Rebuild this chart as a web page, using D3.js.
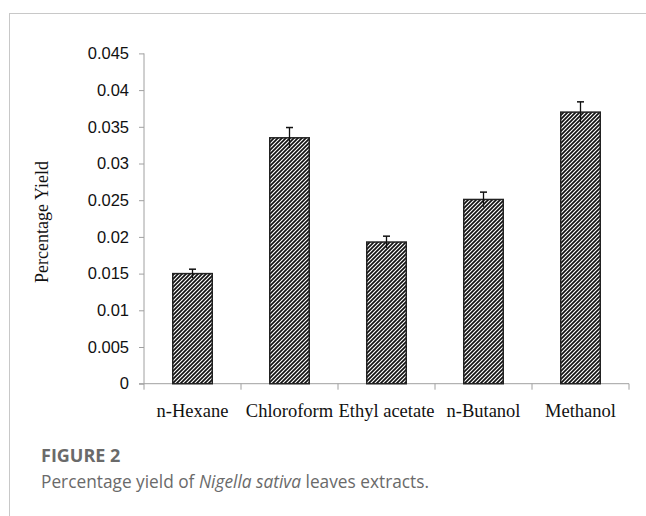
<!DOCTYPE html>
<html>
<head>
<meta charset="utf-8">
<script src="https://cdn.jsdelivr.net/npm/d3@7"></script>
<style>
  html, body { margin: 0; padding: 0; background: #fff; }
  svg { display: block; }
</style>
</head>
<body>
<svg id="chart" width="646" height="516"></svg>
<script>
// Extract yields (percentage) with standard error
const categories = ["n-Hexane", "Chloroform", "Ethyl acetate", "n-Butanol", "Methanol"];
const yields = [0.0150, 0.0335, 0.0193, 0.0251, 0.0370];
const errors = [0.0006, 0.0014, 0.0008, 0.0010, 0.0014];
const yTicks = [0, 0.005, 0.01, 0.015, 0.02, 0.025, 0.03, 0.035, 0.04, 0.045];
const yTickLabels = ["0", "0.005", "0.01", "0.015", "0.02", "0.025", "0.03", "0.035", "0.04", "0.045"];

const svg = d3.select("#chart");

// Hatch pattern for bars (upward diagonal stripes)
const defs = svg.append("defs");
const pat = defs.append("pattern")
  .attr("id", "hatch")
  .attr("patternUnits", "userSpaceOnUse")
  .attr("width", 4).attr("height", 4);
pat.append("rect").attr("width", 4).attr("height", 4).attr("fill", "#fff");
pat.append("path")
  .attr("d", "M-1,1 l2,-2 M0,4 l4,-4 M3,5 l2,-2")
  .attr("stroke", "#111").attr("stroke-width", 1.7);

// Panel frame (top and left rules)
svg.append("line").attr("x1", 9).attr("x2", 646).attr("y1", 13.5).attr("y2", 13.5)
  .attr("stroke", "#c8c8c8").attr("stroke-width", 1);
svg.append("line").attr("x1", 9.5).attr("x2", 9.5).attr("y1", 13).attr("y2", 516)
  .attr("stroke", "#c8c8c8").attr("stroke-width", 1);

const x0 = 144, x1 = 629, yBottom = 383.7, yTop = 53.4;

const x = d3.scaleBand().domain(categories).range([x0, x1]).paddingInner(0).paddingOuter(0);
const y = d3.scaleLinear().domain([0, 0.045]).range([yBottom, yTop]);

const g = svg.append("g");

// Y axis
const yAxis = d3.axisLeft(y).tickValues(yTicks)
  .tickFormat((d, i) => yTickLabels[i]).tickSize(5).tickPadding(10);
const ya = g.append("g").attr("transform", `translate(${x0},0)`).call(yAxis);
ya.select(".domain").attr("stroke", "#a0a0a0").attr("d", `M-0,${yBottom}V${yTop}`);
ya.selectAll(".tick line").attr("stroke", "#a0a0a0");
ya.selectAll(".tick text")
  .attr("font-family", "'Liberation Sans', Arial, sans-serif")
  .attr("font-size", 16.5).attr("fill", "#111");

// X axis with tick marks at category boundaries
const xa = g.append("g").attr("transform", `translate(0,${yBottom})`);
xa.append("line").attr("x1", x0 - 5).attr("x2", x1).attr("y1", 0).attr("y2", 0)
  .attr("stroke", "#a0a0a0");
const bounds = categories.map(c => x(c)).concat([x1]);
xa.selectAll("line.bt").data(bounds).join("line").attr("class", "bt")
  .attr("x1", d => d).attr("x2", d => d).attr("y1", 0).attr("y2", 6)
  .attr("stroke", "#a0a0a0");
xa.selectAll("text").data(categories).join("text")
  .attr("x", d => x(d) + x.bandwidth() / 2)
  .attr("y", 33)
  .attr("text-anchor", "middle")
  .attr("font-family", "'Liberation Serif', 'Times New Roman', serif")
  .attr("font-size", 18.5).attr("fill", "#111")
  .text(d => d);

// Y axis title
svg.append("text")
  .attr("transform", "translate(48,222) rotate(-90)")
  .attr("text-anchor", "middle")
  .attr("font-family", "'Liberation Serif', 'Times New Roman', serif")
  .attr("font-size", 18).attr("fill", "#111")
  .text("Percentage Yield");

// Bars
const barW = 39.5;
g.selectAll("rect.bar").data(categories).join("rect").attr("class", "bar")
  .attr("x", d => x(d) + x.bandwidth() / 2 - barW / 2)
  .attr("width", barW)
  .attr("y", (d, i) => y(yields[i]))
  .attr("height", (d, i) => yBottom - y(yields[i]))
  .attr("fill", "url(#hatch)")
  .attr("stroke", "#222").attr("stroke-width", 1.5);

// Error bars
const eb = g.selectAll("g.err").data(categories).join("g").attr("class", "err");
eb.append("line")
  .attr("x1", d => x(d) + x.bandwidth() / 2).attr("x2", d => x(d) + x.bandwidth() / 2)
  .attr("y1", (d, i) => y(yields[i] - errors[i])).attr("y2", (d, i) => y(yields[i] + errors[i]))
  .attr("stroke", "#111").attr("stroke-width", 1.3);
eb.append("line")
  .attr("x1", d => x(d) + x.bandwidth() / 2 - 3.5).attr("x2", d => x(d) + x.bandwidth() / 2 + 3.5)
  .attr("y1", (d, i) => y(yields[i] + errors[i])).attr("y2", (d, i) => y(yields[i] + errors[i]))
  .attr("stroke", "#111").attr("stroke-width", 1.5);

// Caption
svg.append("text").attr("x", 41).attr("y", 462)
  .attr("font-family", "'Open Sans', 'Noto Sans', sans-serif")
  .attr("font-weight", 700).attr("font-size", 18).attr("fill", "#6a6a6a")
  .text("FIGURE 2");
const cap = svg.append("text").attr("x", 41).attr("y", 488)
  .attr("font-family", "'Open Sans', 'Noto Sans', sans-serif")
  .attr("font-size", 17.3).attr("fill", "#6a6a6a");
cap.append("tspan").text("Percentage yield of ");
cap.append("tspan").attr("font-style", "italic").text("Nigella sativa");
cap.append("tspan").text(" leaves extracts.");
</script>
</body>
</html>
